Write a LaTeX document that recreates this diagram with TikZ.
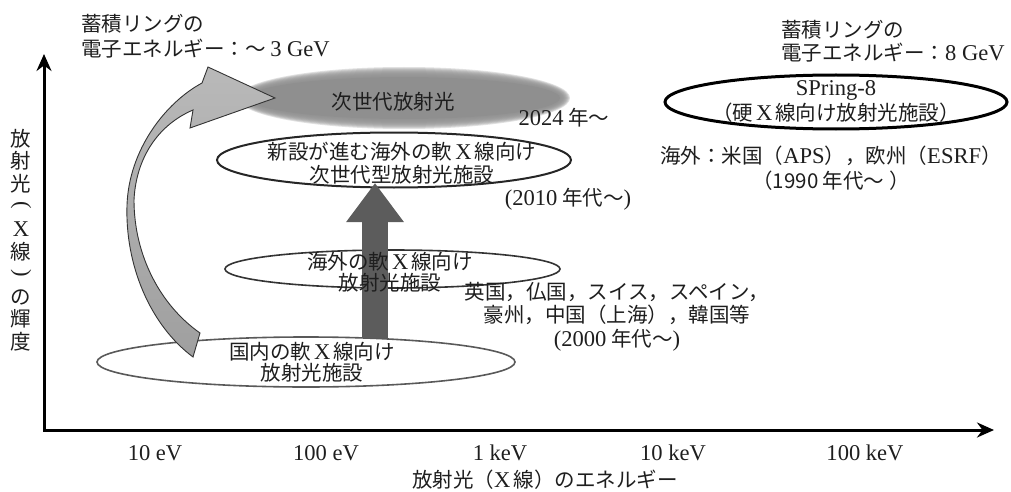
\documentclass[tikz,border=0pt]{standalone}
\usepackage{fontspec}
\usepackage{graphicx}
\setmainfont{Noto Sans CJK JP}
\newfontfamily\lat[Scale=1.1]{Liberation Serif}
\usetikzlibrary{arrows.meta,shapes.geometric}
\newcommand{\latn}[1]{{\lat #1}}
\newcommand{\Xc}{\hspace{3pt}{\lat X}\hspace{3pt}}
\newcommand{\vpl}{\raisebox{3pt}{\rotatebox[origin=c]{-90}{\lat (}}}
\newcommand{\vpr}{\raisebox{3pt}{\rotatebox[origin=c]{-90}{\lat )}}}
\definecolor{ngcol}{HTML}{8F8F8F}
\definecolor{arrcol}{HTML}{5C5C5C}
\definecolor{txtcol}{HTML}{1E1E1E}
\tikzset{
 ell/.style={ellipse, inner sep=0pt, outer sep=0pt},
 lbl/.style={align=center, inner sep=0pt, text=txtcol},
 fs/.style={font=\fontsize{20.5}{#1}\selectfont},
 axisline/.style={line width=3pt, line join=miter, {Stealth[length=17pt,width=15pt]}-{Stealth[length=17pt,width=15pt]}},
 bigarrow/.style={draw=arrcol, line width=26pt, -{Triangle[length=39pt,width=55pt]}},
 curvarrow/.style={draw=black!80, line width=0.9pt, top color=gray!55, middle color=gray!28, bottom color=gray!75},
}
\begin{document}
\begin{tikzpicture}[x=1pt,y=-1pt]
\useasboundingbox (0,0) rectangle (1011,492);

% axes
\coordinate (O) at (44,430);
\coordinate (Ytip) at (44,54);
\coordinate (Xtip) at (994,430);
\draw[axisline] (Ytip) -- (O) -- (Xtip);

% soft gray ellipse (next generation)
\foreach \k in {1,...,10} { \fill[ngcol, opacity=0.27] (404,98) ellipse ({156pt+1pt*\k} and {21pt+1pt*\k}); }
\node[ell, fill=ngcol, minimum width=312pt, minimum height=42pt] (ngE) at (404,98) {};

% ellipses
\node[ell, draw=black!85, line width=2pt, minimum width=354pt, minimum height=55pt] (nwE) at (394,160) {};
\node[ell, draw=black!80, line width=1.6pt, minimum width=335pt, minimum height=38pt] (ovE) at (392.5,269) {};
\node[ell, draw=black!65, line width=1.6pt, minimum width=418pt, minimum height=50pt] (dmE) at (306,362) {};
\node[ell, draw=black, line width=3pt, minimum width=342pt, minimum height=54pt] (spE) at (836,102) {};

% big vertical arrow
\coordinate (aB) at (375,338);
\coordinate (aT) at (375,183);
\draw[bigarrow] (aB) -- (aT);

% curved arrow
\path[curvarrow] (200,333) -- (193,357) .. controls (150,325) and (125,265) .. (127,205) .. controls (129,150) and (165,103) .. (202,83) -- (208,67) -- (275,98) -- (190,128) -- (193,110) .. controls (158,125) and (136,158) .. (134,200) .. controls (134,255) and (160,305) .. (200,333) -- cycle;

% texts
\node[lbl, fs=24] (ngT) at (393,102) {次世代放射光};
\node[lbl, fs=23] (nwT) at (402,163.5) {新設が進む海外の軟\Xc{}線向け\\次世代型放射光施設};
\node[lbl, fs=21] (ovT) at (390,272.5) {海外の軟\Xc{}線向け\\放射光施設};
\node[lbl, fs=21] (dmT) at (312,362.5) {国内の軟\Xc{}線向け\\放射光施設};
\node[lbl, fs=25] (spT) at (836,101) {\latn{SPring-8}\\（硬\Xc{}線向け放射光施設）};

\node[lbl, fs=24] (y24) at (564,118) {\latn{2024} 年～};
\node[lbl, fs=24] (y10) at (568,199) {\latn{(2010} 年代～\latn{)}};
\node[lbl, fs=23.5] (ctry) at (617,316.5) {英国，仏国，スイス，スペイン，\\豪州，中国（上海），韓国等\\\latn{(2000} 年代～\latn{)}};
\node[lbl, fs=25] (ovs) at (831,168.5) {海外：米国（\latn{APS}），欧州（\latn{ESRF}）\\（1990 年代～ ）};

\node[lbl, fs=24.5, align=left, anchor=west] (tl) at (81,36) {蓄積リングの\\電子エネルギー：～ \latn{3 GeV}};
\node[lbl, fs=23.5, align=left, anchor=west] (tr) at (781,41) {蓄積リングの\\電子エネルギー：\latn{8 GeV}};

\node[lbl, fs=22.6] (ylab) at (21,240) {放\\射\\光\\\vpl\\\latn{X}\\線\\\vpr\\の\\輝\\度};

\node[lbl, fs=24] (t1) at (155,453) {\latn{10 eV}};
\node[lbl, fs=24] (t2) at (326,453) {\latn{100 eV}};
\node[lbl, fs=24] (t3) at (500,453) {\latn{1 keV}};
\node[lbl, fs=24] (t4) at (673,453) {\latn{10 keV}};
\node[lbl, fs=24] (t5) at (865,453) {\latn{100 keV}};
\node[lbl, fs=24] (xlab) at (545,480) {放射光（\latn{X}\,線）のエネルギー};
\end{tikzpicture}
\end{document}
